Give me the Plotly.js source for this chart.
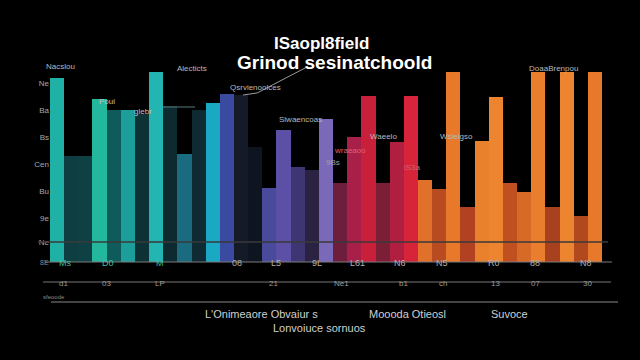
<!DOCTYPE html>
<html><head><meta charset="utf-8">
<script src="https://cdn.plot.ly/plotly-3.0.1.min.js"></script>
<style>html,body{margin:0;padding:0;background:#000;}#chart{width:640px;height:360px;}</style>
</head><body><div id="chart"></div>
<script>
const categories = ["B1","B2","B3","B4","B5","B6","B7","B8","B9","B10","B11","B12","B13","B14","B15","B16","B17","B18","B19","B20","B21","B22","B23","B24","B25","B26","B27","B28","B29","B30","B31","B32","B33","B34","B35","B36","B37","B38","B39"];
const values = [96,55,55,85,79,79,77,99,81,56,79,83,87.5,87,60,38.5,69,49.5,48,74.5,41,65,86.5,41,62.5,86.5,42.7,38,99,28.6,63,86,41,36.5,99,28.6,99,24,99];
const yTickVals = [10.4,22.9,37,51,65.1,79.2,93.2];
const yTickText = ["Ne","9e","Bu","Cen","Bs","Ba","Ne"];
const xRow1 = ["Ms","D0","M","08","L5","9L","L61","N6","N5","R0","88","N8"];
const xRow2 = ["d1","03","LP","21","Ne1","b1","ch","13","07","30"];
const titleLines = ["ISaopl8field","Grinod sesinatchoold"];
const barLabels = ["Nacslou","Alecticts","Qsrvienoolces","Slwaencoas","Poui","glebr","DoaaBrenpou","Waeelo","wraeaoo","9Bs","iS3a","Wsielgso"];
const bottomLabels = ["L'Onimeaore Obvaiur s","Moooda Otieosl","Suvoce","Lonvoiuce sornuos"];

const colors = ['#1fb0a6','#0f3e42','#0f4044','#23b89e','#0f5a5a','#1c9f9a','#0d3236','#22b5b2','#0c2a30','#1a6a80','#0e2a32','#1aa8c2','#3a4aa0','#151a28','#0e1420','#4a4a9c','#5c4fa6','#3e3672','#2a2240','#7a68b8','#6e1e3c','#a8204a','#c81f3a','#7a1f36','#b01f40','#d8243a','#e0702a','#b84c20','#e8782a','#b04222','#e8802c','#ec8430','#c05020','#d86a28','#ea7e2c','#a8421e','#ec8430','#b04a1e','#e8782a'];

const L=50, W=552, T=70, H=192;
const px = x => (x-L)/W;
const py = y => (T+H-y)/H;
const f = (s,c)=>({family:'Liberation Sans Narrow, Liberation Sans, Arial, sans-serif',size:s,color:c});
const ann = [];
const r1x=[57,100,154,230,276,317,357,400,450,502,542,594];
xRow1.forEach((t,i)=>ann.push({xref:'paper',yref:'paper',x:px(r1x[i]),y:py(270),text:t,showarrow:false,font:f(9,i<3?'#3cbf9c':'#b0b0b0')}));
const r2x=[57,100,153,273,341,403,449,502,542,594];
xRow2.forEach((t,i)=>ann.push({xref:'paper',yref:'paper',x:px(r2x[i]),y:py(290),text:t,showarrow:false,font:f(8,'#9a9a9a')}));
const blp=[[44,60,'#b8b8b8'],[175,62,'#b8b8b8'],[228,81,'#b8b8b8'],[300,113,'#b8b8b8'],[97,95,'#c0c0c0'],[132,105,'#c0c0c0'],[580,62,'#b8b8b8'],[383,130,'#b8b8b8'],[350,150,'#e06070'],[333,162,'#a0a0a0'],[412,167,'#d06070'],[475,136,'#b8b8b8']];
barLabels.forEach((t,i)=>ann.push({xref:'paper',yref:'paper',x:px(blp[i][0]),y:py(blp[i][1]),text:t,showarrow:false,font:f(8,blp[i][2])}));
const bp=[[203,322],[407,322],[530,322],[319,336]];
bottomLabels.forEach((t,i)=>ann.push({xref:'paper',yref:'paper',x:px(bp[i][0]),y:py(bp[i][1]),text:t,showarrow:false,font:f(11,'#d0d0d0')}));
ann.push({xref:'paper',yref:'paper',x:px(321),y:py(32),text:titleLines[0],showarrow:false,font:{family:'Liberation Sans, Arial, sans-serif',size:17,color:'#ffffff',weight:'bold'}});
ann.push({xref:'paper',yref:'paper',x:px(334),y:py(50),text:titleLines[1],showarrow:false,font:{family:'Liberation Sans, Arial, sans-serif',size:19,color:'#ffffff',weight:'bold'}});
ann.push({xref:'paper',yref:'paper',x:px(41),y:py(302),text:'sfeoode',showarrow:false,font:f(6,'#8a8a8a')});
ann.push({xref:'paper',yref:'paper',x:px(38),y:py(268),text:'8E',showarrow:false,font:f(7,'#8a8a8a')});

const shapes=[
 {type:'line',xref:'paper',yref:'paper',x0:px(38),x1:px(608),y0:py(242),y1:py(242),line:{color:'#3a3a3a',width:1.5}},
 {type:'line',xref:'paper',yref:'paper',x0:px(45),x1:px(612),y0:py(262),y1:py(262),line:{color:'#7a7a7a',width:1}},
 {type:'line',xref:'paper',yref:'paper',x0:px(43),x1:px(611),y0:py(282),y1:py(282),line:{color:'#777',width:1}},
 {type:'line',xref:'paper',yref:'paper',x0:px(51),x1:px(618),y0:py(302),y1:py(302),line:{color:'#888',width:1}},
 {type:'path',xref:'paper',yref:'paper',path:`M ${px(307)} ${py(67)} L ${px(257)} ${py(93)} L ${px(243)} ${py(95)}`,line:{color:'#9a9a9a',width:1}},
 {type:'line',xref:'paper',yref:'paper',x0:px(163),x1:px(195),y0:py(107),y1:py(107),line:{color:'#5a7a7a',width:1}}
];

Plotly.newPlot('chart',[{type:'bar',x:categories,y:values,marker:{color:colors,line:{width:0}},hoverinfo:'skip'}],{
 width:640,height:360,paper_bgcolor:'#000',plot_bgcolor:'#000',
 margin:{l:L,r:640-L-W,t:T,b:360-T-H},bargap:0,showlegend:false,
 xaxis:{showticklabels:false,showgrid:false,zeroline:false,showline:false,ticks:''},
 yaxis:{range:[0,100],tickvals:yTickVals,ticktext:yTickText,showgrid:false,zeroline:false,showline:false,tickfont:f(8,'#a8a8a8'),ticks:''},
 annotations:ann,shapes:shapes
},{displayModeBar:false,staticPlot:true});
</script></body></html>
